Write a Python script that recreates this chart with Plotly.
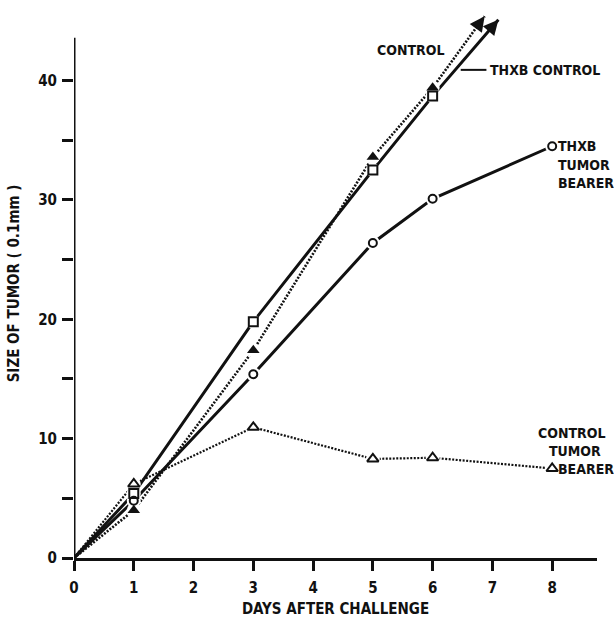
import plotly.graph_objects as go

# ---- data ----
days_ctrl = [0, 1, 3, 5, 6]
control = [0, 4.0, 17.4, 33.6, 39.4]
thxb_control = [0, 5.4, 19.8, 32.5, 38.7]
control_arrow_tip = [6.87, 45.4]
thxb_control_arrow_tip = [7.1, 45.1]

days_tb = [0, 1, 3, 5, 6, 8]
thxb_tumor_bearer = [0, 4.8, 15.4, 26.4, 30.1, 34.5]
control_tumor_bearer = [0, 6.2, 10.95, 8.3, 8.4, 7.5]

x_ticks = [0, 1, 2, 3, 4, 5, 6, 7, 8]
y_ticks = [0, 10, 20, 30, 40]
y_axis_top = 43.6

FONT = "Liberation Sans Narrow, DejaVu Sans Condensed, Arial Narrow, sans-serif"
BLACK = "#111111"

fig = go.Figure()

# lines
fig.add_trace(go.Scatter(x=days_ctrl + [control_arrow_tip[0]], y=control + [control_arrow_tip[1]],
                         mode="lines", line=dict(color=BLACK, width=2.6, dash="2px,1.5px"),
                         hoverinfo="skip", cliponaxis=False))
fig.add_trace(go.Scatter(x=days_ctrl + [thxb_control_arrow_tip[0]], y=thxb_control + [thxb_control_arrow_tip[1]],
                         mode="lines", line=dict(color=BLACK, width=3), hoverinfo="skip", cliponaxis=False))
fig.add_trace(go.Scatter(x=days_tb, y=thxb_tumor_bearer, mode="lines",
                         line=dict(color=BLACK, width=3), hoverinfo="skip"))
fig.add_trace(go.Scatter(x=days_tb, y=control_tumor_bearer, mode="lines",
                         line=dict(color=BLACK, width=2.2, dash="2px,1.5px"), hoverinfo="skip"))

# white underlays creating gaps around markers
for xs, ys in [(days_ctrl, control), (days_ctrl, thxb_control),
               (days_tb, thxb_tumor_bearer), (days_tb, control_tumor_bearer)]:
    fig.add_trace(go.Scatter(x=xs[1:], y=ys[1:], mode="markers",
                             marker=dict(symbol="circle", size=14, color="white", line=dict(width=0)),
                             hoverinfo="skip"))

# markers
fig.add_trace(go.Scatter(x=days_ctrl[1:], y=control[1:], mode="markers",
                         marker=dict(symbol="triangle-up", size=11, color=BLACK, line=dict(width=0))))
fig.add_trace(go.Scatter(x=days_ctrl[1:], y=thxb_control[1:], mode="markers",
                         marker=dict(symbol="square-open", size=9, color=BLACK, line=dict(width=2))))
fig.add_trace(go.Scatter(x=days_tb[1:], y=thxb_tumor_bearer[1:], mode="markers",
                         marker=dict(symbol="circle-open", size=8, color=BLACK, line=dict(width=2))))
fig.add_trace(go.Scatter(x=days_tb[1:], y=control_tumor_bearer[1:], mode="markers",
                         marker=dict(symbol="triangle-up-open", size=10, color=BLACK, line=dict(width=2))))

# arrowheads
for tip, last in [(control_arrow_tip, [days_ctrl[-1], control[-1]]),
                  (thxb_control_arrow_tip, [days_ctrl[-1], thxb_control[-1]])]:
    tail_x = tip[0] - 0.15 * (tip[0] - last[0])
    tail_y = tip[1] - 0.15 * (tip[1] - last[1])
    fig.add_annotation(x=tip[0], y=tip[1], ax=tail_x, ay=tail_y, axref="x", ayref="y",
                       xref="x", yref="y", showarrow=True, arrowhead=2, arrowsize=1.2,
                       arrowwidth=2.5, arrowcolor=BLACK, text="", standoff=0)

lab = dict(family=FONT, size=14, color=BLACK, weight="bold")

def label(x, y, t, anchor="center"):
    fig.add_annotation(x=x, y=y, text=t, showarrow=False, xref="x", yref="y",
                       xanchor=anchor, yanchor="middle", font=lab)

label(5.63, 42.6, "CONTROL")
label(6.93, 40.9, "THXB CONTROL", "left")
fig.add_shape(type="line", x0=6.47, x1=6.9, y0=40.9, y1=40.9, xref="x", yref="y",
              line=dict(color=BLACK, width=2))
label(8.06, 34.5, "THXB", "left")
label(8.06, 32.9, "TUMOR", "left")
label(8.06, 31.4, "BEARER", "left")
label(8.33, 10.46, "CONTROL")
label(8.38, 8.96, "TUMOR")
label(8.065, 7.47, "BEARER", "left")

# y axis line drawn only up to its top end
fig.add_shape(type="line", x0=0, x1=0, y0=0, y1=y_axis_top, xref="x", yref="y",
              line=dict(color=BLACK, width=3))

tickfont = dict(family=FONT, size=15, color=BLACK, weight="bold")

fig.update_layout(
    width=614, height=625,
    margin=dict(l=74, r=17, t=9, b=62),
    paper_bgcolor="white", plot_bgcolor="white",
    showlegend=False,
    xaxis=dict(range=[0, 8.75], tickvals=x_ticks, ticktext=[str(v) for v in x_ticks],
               showgrid=False, zeroline=False, showline=True, linecolor=BLACK, linewidth=3,
               ticks="outside", ticklen=10, tickwidth=2.5, tickcolor=BLACK,
               tickfont=tickfont, ticklabelstandoff=4,
               title=dict(text="DAYS AFTER CHALLENGE", standoff=8,
                          font=dict(family=FONT, size=15, color=BLACK, weight="bold"))),
    yaxis=dict(range=[0, 46], tickvals=y_ticks, ticktext=[str(v) for v in y_ticks],
               showgrid=False, zeroline=False, showline=False,
               ticks="outside", ticklen=11, tickwidth=2.5, tickcolor=BLACK,
               tickfont=tickfont, ticklabelstandoff=2,
               minor=dict(tickvals=[5, 15, 25, 35], ticks="outside", ticklen=11, tickwidth=2.5,
                          tickcolor=BLACK, showgrid=False),
               title=dict(text="SIZE OF TUMOR ( 0.1mm )", standoff=14,
                          font=dict(family=FONT, size=15, color=BLACK, weight="bold"))),
)

fig.write_html("out.html", config={"displayModeBar": False},
               post_script="document.body.style.margin='0';document.body.style.overflow='hidden';")
